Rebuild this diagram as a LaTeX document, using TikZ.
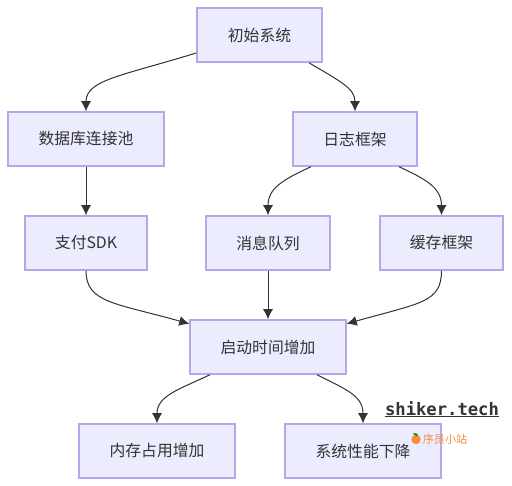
\documentclass[tikz,border=0pt]{standalone}
\usepackage{fontspec}
\setmainfont{Noto Sans CJK SC}
\newfontfamily\wmfont{DejaVu Sans Mono}
\usetikzlibrary{arrows.meta}
\definecolor{boxfill}{HTML}{ECECFF}
\definecolor{boxline}{HTML}{B9A5EA}
\definecolor{edgeink}{HTML}{333333}
\definecolor{wmorange}{HTML}{F98C3F}
\tikzset{
  flowbox/.style={draw=boxline,fill=boxfill,line width=1.5pt,minimum height=54pt,inner sep=0pt,text=edgeink,font=\fontsize{15.8}{18}\selectfont,anchor=center},
  flowedge/.style={draw=edgeink,line width=1pt,-{Latex[length=10pt,width=10pt]}},
}
\begin{document}
\begin{tikzpicture}[x=1pt,y=-1pt]
\useasboundingbox (0,0) rectangle (512,486);
\fill[white] (0,0) rectangle (512,486);
\node[flowbox,minimum width=125pt] (init) at (259.5,35) {初始系统};
\node[flowbox,minimum width=156pt] (db) at (86,139) {数据库连接池};
\node[flowbox,minimum width=124pt] (log) at (355,139) {日志框架};
\node[flowbox,minimum width=122pt] (pay) at (86,243) {支付SDK};
\node[flowbox,minimum width=124pt] (msg) at (268,243) {消息队列};
\node[flowbox,minimum width=123pt] (cache) at (441.5,243) {缓存框架};
\node[flowbox,minimum width=156pt] (start) at (268,347) {启动时间增加};
\node[flowbox,minimum width=156pt] (mem) at (157,451) {内存占用增加};
\node[flowbox,minimum width=156pt] (perf) at (363,451) {系统性能下降};

\draw[flowedge] ([yshift=-18pt]init.west) .. controls +(-75,23) and (86,80) .. (db.north);
\draw[flowedge] ([xshift=49.5pt]init.south) .. controls +(30,18) and (355,88) .. (log.north);
\draw[flowedge] (db.south) -- (pay.north);
\draw[flowedge] ([xshift=-44pt]log.south) .. controls +(-28,13) and (268,188) .. (msg.north);
\draw[flowedge] ([xshift=44pt]log.south) .. controls +(28,13) and (441.5,188) .. (cache.north);
\draw[flowedge] (pay.south) .. controls +(0,32) and (115,303) .. ([yshift=-4.5pt]start.north west);
\draw[flowedge] (msg.south) -- (start.north);
\draw[flowedge] (cache.south) .. controls +(0,32) and (420,303) .. ([yshift=-4.5pt]start.north east);
\draw[flowedge] ([xshift=-58pt]start.south) .. controls +(-32,15) and (157,396) .. (mem.north);
\draw[flowedge] ([xshift=49pt]start.south) .. controls +(30,15) and (363,396) .. (perf.north);

\node[inner sep=0pt,text=edgeink,font=\wmfont\fontsize{17.2}{18}\selectfont\bfseries] (wm) at (442,409) {shiker.tech};
\draw[edgeink,line width=1pt] ([yshift=-0.5pt]wm.south west) -- ([yshift=-0.5pt]wm.south east);
\node[inner sep=0pt,text=wmorange,font=\fontsize{11.1}{13}\selectfont] (site) at (445,439) {序员小站};
\fill[wmorange] (416,439.5) circle (4.7pt);
\fill[green!60!black] (413,433) -- (417,433.5) -- (418,436) -- (415,435.5) -- cycle;
\end{tikzpicture}
\end{document}
